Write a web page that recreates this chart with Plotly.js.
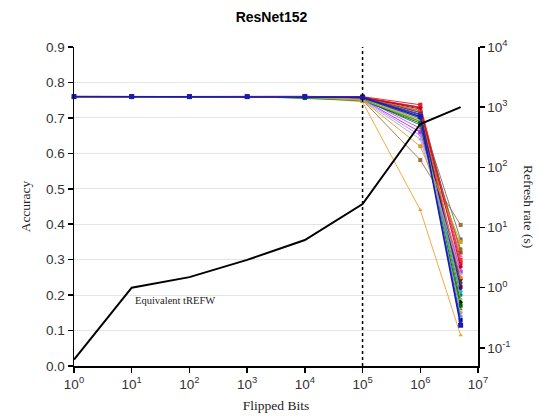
<!DOCTYPE html>
<html>
<head>
<meta charset="utf-8">
<script src="https://cdn.plot.ly/plotly-3.0.1.min.js"></script>
<style>html,body{margin:0;padding:0;background:#fff;}#chart{width:543px;height:418px;}</style>
</head>
<body>
<div id="chart"></div>
<script>
// Flipped bits (x positions)
const flippedBits = [1, 10, 100, 1000, 1e4, 1e5, 1e6, 5e6];
// Equivalent tREFW refresh rate (s), right axis
const refreshRate = [0.064, 1.0, 1.5, 2.9, 6.2, 24.5, 525, 1000];
// Accuracy series (each: values at flippedBits)
const accSeries = [
  [0.76, 0.76, 0.76, 0.76, 0.760, 0.750, 0.581, 0.398],
  [0.76, 0.76, 0.76, 0.76, 0.760, 0.745, 0.440, 0.087],
  [0.76, 0.76, 0.76, 0.76, 0.762, 0.760, 0.737, 0.290],
  [0.76, 0.76, 0.76, 0.76, 0.760, 0.757, 0.730, 0.226],
  [0.76, 0.76, 0.76, 0.76, 0.755, 0.748, 0.690, 0.160],
  [0.76, 0.76, 0.76, 0.76, 0.760, 0.752, 0.660, 0.266],
  [0.76, 0.76, 0.76, 0.76, 0.760, 0.755, 0.710, 0.357],
  [0.76, 0.76, 0.76, 0.76, 0.760, 0.757, 0.720, 0.180],
  [0.76, 0.76, 0.76, 0.76, 0.760, 0.754, 0.700, 0.150],
  [0.76, 0.76, 0.76, 0.76, 0.760, 0.755, 0.670, 0.270],
  [0.76, 0.76, 0.76, 0.76, 0.758, 0.752, 0.680, 0.200],
  [0.76, 0.76, 0.76, 0.76, 0.761, 0.760, 0.715, 0.130],
  [0.76, 0.76, 0.76, 0.76, 0.758, 0.753, 0.690, 0.330],
  [0.76, 0.76, 0.76, 0.76, 0.760, 0.756, 0.695, 0.310],
  [0.76, 0.76, 0.76, 0.76, 0.760, 0.755, 0.700, 0.210],
  [0.76, 0.76, 0.76, 0.76, 0.756, 0.750, 0.685, 0.170],
  [0.76, 0.76, 0.76, 0.76, 0.760, 0.758, 0.725, 0.245],
  [0.76, 0.76, 0.76, 0.76, 0.760, 0.752, 0.650, 0.280],
  [0.76, 0.76, 0.76, 0.76, 0.760, 0.757, 0.710, 0.140],
  [0.76, 0.76, 0.76, 0.76, 0.760, 0.759, 0.730, 0.300],
  [0.76, 0.76, 0.76, 0.76, 0.760, 0.757, 0.720, 0.250],
  [0.76, 0.76, 0.76, 0.76, 0.757, 0.750, 0.695, 0.190],
  [0.76, 0.76, 0.76, 0.76, 0.760, 0.756, 0.700, 0.235],
  [0.76, 0.76, 0.76, 0.76, 0.760, 0.757, 0.715, 0.320],
  [0.76, 0.76, 0.76, 0.76, 0.760, 0.757, 0.710, 0.220],
  [0.76, 0.76, 0.76, 0.76, 0.760, 0.750, 0.640, 0.260],
  [0.76, 0.76, 0.76, 0.76, 0.760, 0.750, 0.620, 0.350],
  [0.76, 0.76, 0.76, 0.76, 0.761, 0.758, 0.728, 0.280],
  [0.76, 0.76, 0.76, 0.76, 0.760, 0.758, 0.708, 0.120],
  [0.76, 0.76, 0.76, 0.76, 0.760, 0.758, 0.704, 0.115]
];
const seriesColors = [
  '#a0703a', '#f0a030', '#e41a1c', '#8b0000', '#2ca02c', '#9b30ff',
  '#707070', '#111111', '#c8a060', '#e040e0', '#008080', '#000080',
  '#808000', '#ff69b4', '#20b0d0', '#006400', '#800040', '#c080ff',
  '#6495ed', '#ff3030', '#ff7f00', '#7fbf3f', '#2f4f4f', '#a0522d',
  '#4b0082', '#b0a0e0', '#d4a020', '#c00030', '#3050ff', '#1a1ab0'
];
const seriesSymbols = [
  'square', 'triangle-up', 'square', 'circle', 'triangle-up', 'square',
  'square', 'circle', 'circle', 'triangle-up', 'circle', 'square',
  'circle', 'triangle-up', 'circle', 'square', 'circle', 'triangle-up',
  'circle', 'square', 'circle', 'triangle-up', 'circle', 'square',
  'circle', 'triangle-up', 'square', 'circle', 'circle', 'square'
];
const xTickVals = [1, 10, 100, 1000, 1e4, 1e5, 1e6, 1e7];
const xTickText = ['10<sup>0</sup>','10<sup>1</sup>','10<sup>2</sup>','10<sup>3</sup>','10<sup>4</sup>','10<sup>5</sup>','10<sup>6</sup>','10<sup>7</sup>'];
const y2TickVals = [0.1, 1, 10, 100, 1000, 10000];
const y2TickText = ['10<sup>-1</sup>','10<sup>0</sup>','10<sup>1</sup>','10<sup>2</sup>','10<sup>3</sup>','10<sup>4</sup>'];
const dividerBits = 1e5;

const traces = accSeries.map((vals, i) => ({
  x: flippedBits, y: vals, type: 'scatter', mode: 'lines+markers',
  line: {color: seriesColors[i], width: i === accSeries.length - 1 ? 1.5 : 0.9},
  marker: {color: seriesColors[i], symbol: seriesSymbols[i], size: i === accSeries.length - 1 ? 5 : 4},
  showlegend: false, hoverinfo: 'skip', cliponaxis: false
}));
traces.push({
  x: flippedBits, y: refreshRate, yaxis: 'y2', type: 'scatter', mode: 'lines',
  line: {color: '#000', width: 2}, showlegend: false
});

const tickFont = {family: 'Liberation Sans, Arial, sans-serif', size: 13.5, color: '#333'};
const serif = 'Liberation Serif, Times New Roman, serif';

const layout = {
  width: 543, height: 418,
  margin: {l: 74, r: 65, t: 47, b: 52},
  paper_bgcolor: '#fff', plot_bgcolor: '#fff',
  title: {text: '<b>ResNet152</b>', font: {family: 'Liberation Sans, Arial, sans-serif', size: 14, color: '#000'}, x: 0.5, xanchor: 'center', y: 0.96, yanchor: 'middle'},
  xaxis: {
    type: 'log', range: [0, 7], tickmode: 'array', tickvals: xTickVals, ticktext: xTickText,
    ticks: 'outside', ticklen: 5, tickwidth: 1.5, tickcolor: '#000',
    showline: true, linecolor: '#000', linewidth: 1.5, showgrid: false, zeroline: false,
    tickfont: tickFont,
    title: {text: 'Flipped Bits', font: {family: serif, size: 13.5, color: '#222'}, standoff: 10}
  },
  yaxis: {
    range: [0, 0.9], dtick: 0.1, tickformat: '.1f',
    ticks: 'outside', ticklen: 5, tickwidth: 1.5, tickcolor: '#000',
    showline: true, linecolor: '#000', linewidth: 1.5, showgrid: true, gridcolor: '#e4e4e4', gridwidth: 1,
    zeroline: false, tickfont: tickFont,
    title: {text: 'Accuracy', font: {family: serif, size: 13.5, color: '#222'}, standoff: 12}
  },
  yaxis2: {
    type: 'log', range: [Math.log10(0.05), 4], overlaying: 'y', side: 'right',
    tickmode: 'array', tickvals: y2TickVals, ticktext: y2TickText,
    ticks: 'outside', ticklen: 5, tickwidth: 1.5, tickcolor: '#000',
    showline: true, linecolor: '#000', linewidth: 1.5, showgrid: false, zeroline: false,
    tickfont: tickFont
  },
  shapes: [{
    type: 'line', xref: 'x', yref: 'paper', x0: dividerBits, x1: dividerBits, y0: 0, y1: 1,
    line: {color: '#000', width: 1.5, dash: 'dot'}, layer: 'above'
  }],
  annotations: [
    {text: 'Refresh rate (s)', xref: 'paper', yref: 'paper', x: 1.125, y: 0.5, xanchor: 'center', yanchor: 'middle',
     textangle: 90, showarrow: false, font: {family: serif, size: 13.5, color: '#222'}},
    {text: 'Equivalent tREFW', xref: 'paper', yref: 'paper', x: 0.145, y: 0.205, xanchor: 'left', yanchor: 'middle',
     showarrow: false, font: {family: serif, size: 10.5, color: '#222'}}
  ]
};

Plotly.newPlot('chart', traces, layout, {displayModeBar: false, staticPlot: true});
</script>
</body>
</html>
